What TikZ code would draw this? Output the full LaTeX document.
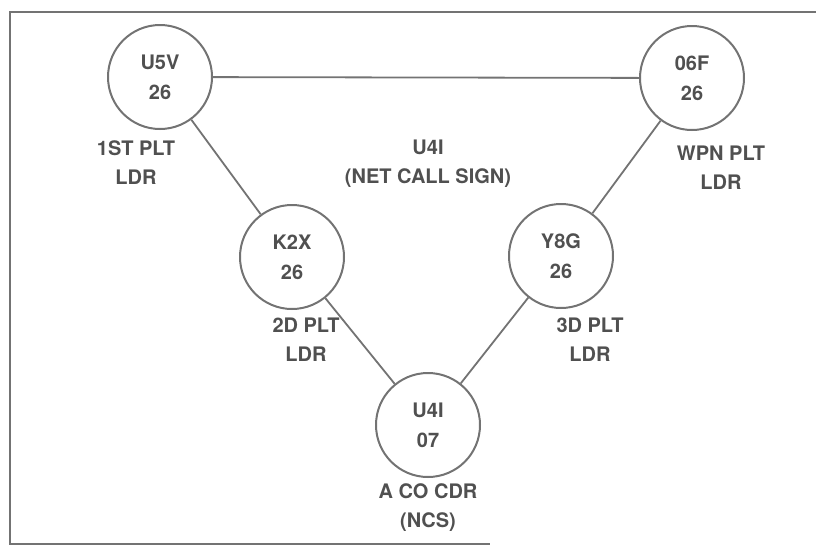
\documentclass[tikz,border=0pt]{standalone}
\usepackage{fontspec}
\setmainfont{TeX Gyre Heros}
\usetikzlibrary{positioning}
\definecolor{tinta}{RGB}{80,80,80}
\definecolor{trazo}{RGB}{115,115,115}
\tikzset{
  puesto/.style={circle, draw=trazo, line width=2pt, minimum size=104pt,
    inner sep=0pt, align=center, text=tinta,
    font=\bfseries\fontsize{20}{30}\selectfont},
  cargo/.style={align=center, text=tinta,
    font=\bfseries\fontsize{20}{29}\selectfont},
  enlace/.style={draw=trazo, line width=1.8pt},
  marco/.style={draw=trazo, line width=2pt}
}
\begin{document}
\begin{tikzpicture}[x=1pt, y=-1pt]
  \useasboundingbox (0,0) rectangle (816,549);
  \draw[marco] (816,12) -- (10,12) -- (10,544) -- (490,544);
  % estaciones de la red
  \node[puesto] (u5v) at (160,77) {U5V\\26};
  \node[puesto] (o6f) at (692,78) {06F\\26};
  \node[puesto] (k2x) at (292,257) {K2X\\26};
  \node[puesto] (y8g) at (561,256) {Y8G\\26};
  \node[puesto] (u4i) at (428,425) {U4I\\07};
  % cargos
  \node[cargo] (l1) at (136,163) {1ST PLT\\LDR};
  \node[cargo] (lw) at (721,168) {WPN PLT\\LDR};
  \node[cargo] (l2) at (306,340) {2D PLT\\LDR};
  \node[cargo] (l3) at (590,340) {3D PLT\\LDR};
  \node[cargo, below=2pt of u4i] (lc) {A CO CDR\\(NCS)};
  \node[cargo] (red) at (428,164) {U4I\\(NET CALL SIGN)};
  \draw[enlace] (u5v) -- (o6f);
  \draw[enlace] (u5v) -- (k2x);
  \draw[enlace] (o6f) -- (y8g);
  \draw[enlace] (k2x) -- (u4i);
  \draw[enlace] (y8g) -- (u4i);
\end{tikzpicture}
\end{document}
